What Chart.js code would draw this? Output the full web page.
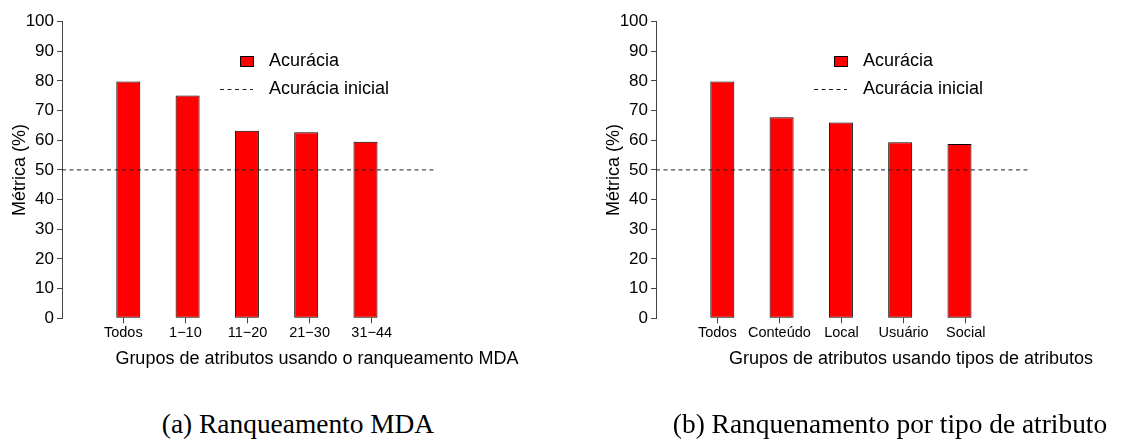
<!DOCTYPE html>
<html lang="pt-BR">
<head>
<meta charset="utf-8">
<title>Acurácia por grupos de atributos</title>
<script src="https://cdn.jsdelivr.net/npm/chart.js@4.4.1/dist/chart.umd.min.js"></script>
<style>
  html, body { margin: 0; padding: 0; background: #fff; width: 1130px; height: 440px; overflow: hidden; }
  #painel { position: relative; width: 1130px; height: 440px; overflow: hidden; }
  #painel canvas { position: absolute; top: 0; }
  #graficoA { left: 0; }
  #graficoB { left: 594px; }
  .legenda-fig {
    position: absolute; top: 411px; width: 600px; text-align: center; white-space: nowrap;
    font-family: 'Liberation Serif', 'DejaVu Serif', serif; font-size: 27.4px; line-height: 1; color: #000;
  }
</style>
</head>
<body>
<div id="painel">
  <canvas id="graficoA" width="600" height="400"></canvas>
  <canvas id="graficoB" width="600" height="400"></canvas>
  <div class="legenda-fig" style="left:-2px">(a) Ranqueamento MDA</div>
  <div class="legenda-fig" style="left:590px">(b) Ranquenamento por tipo de atributo</div>
</div>
<script>
// Grupos de atributos e acurácia (%) obtida com cada grupo
const gruposMDA = ['Todos', '1−10', '11−20', '21−30', '31−44'];
const acuraciaMDA = [79.8, 75.1, 63.2, 62.7, 59.5];

const gruposTipo = ['Todos', 'Conteúdo', 'Local', 'Usuário', 'Social'];
const acuraciaTipo = [79.8, 67.7, 66.0, 59.3, 58.7];

// Acurácia de referência (linha tracejada)
const acuraciaInicial = 50;

// Marcas do eixo vertical
const ticksY = [0, 10, 20, 30, 40, 50, 60, 70, 80, 90, 100];

const rotulosSerie = ['Acurácia', 'Acurácia inicial'];
const tituloY = 'Métrica (%)';

// Geometria de cada painel (px)
const CANVAS = { width: 600, height: 400 };
const AREA = { left: 62, top: 21.5, width: 510, height: 296.8 };
const ALTURA_EIXO_X = 60;
const PASSO_BARRA = 59.3, PRIMEIRA_BARRA = 66.3;   // centros das barras
const PASSO_MARCA = 62.1, PRIMEIRA_MARCA = 61.3;   // marcas do eixo x
const COMPRIMENTO_REF = 375;                        // extensão da linha tracejada

const fonte = "'Liberation Sans', Arial, sans-serif";

// Legenda desenhada dentro da área de plotagem, a partir dos próprios datasets
const legendaInterna = {
  id: 'legendaInterna',
  afterDraw(chart, _args, o) {
    const { ctx, chartArea: a } = chart;
    ctx.save();
    ctx.font = `${o.tamanho}px ${fonte}`;
    ctx.textBaseline = 'middle';
    ctx.textAlign = 'left';
    chart.data.datasets.forEach((ds, i) => {
      const y = a.top + o.topo + i * o.passo;
      if (ds.type === 'line') {
        const yl = Math.round(y) + 0.5;
        ctx.strokeStyle = ds.borderColor;
        ctx.lineWidth = ds.borderWidth;
        ctx.setLineDash(ds.borderDash);
        ctx.beginPath();
        ctx.moveTo(a.left + o.linhaIni, yl);
        ctx.lineTo(a.left + o.linhaFim, yl);
        ctx.stroke();
        ctx.setLineDash([]);
      } else {
        const x0 = Math.round(a.left + o.caixaX) + 0.5;
        const y0 = Math.round(y - o.caixaA / 2) + 0.5;
        ctx.fillStyle = ds.backgroundColor;
        ctx.fillRect(x0, y0, o.caixaL, o.caixaA);
        ctx.strokeStyle = ds.borderColor;
        ctx.lineWidth = ds.borderWidth;
        ctx.strokeRect(x0, y0, o.caixaL, o.caixaA);
      }
      ctx.fillStyle = '#000';
      ctx.fillText(ds.label, a.left + o.textoX, y);
    });
    ctx.restore();
  }
};

function criarGrafico(id, grupos, valores, tituloX) {
  const indices = grupos.map((_, i) => i);
  const xbMin = -PRIMEIRA_BARRA / PASSO_BARRA;
  const xbMax = (AREA.width - PRIMEIRA_BARRA) / PASSO_BARRA;
  const xtMin = -PRIMEIRA_MARCA / PASSO_MARCA;
  const xtMax = (AREA.width - PRIMEIRA_MARCA) / PASSO_MARCA;
  const fimRef = (COMPRIMENTO_REF - PRIMEIRA_BARRA) / PASSO_BARRA;

  return new Chart(document.getElementById(id), {
    type: 'bar',
    data: {
      datasets: [
        {
          type: 'bar',
          label: rotulosSerie[0],
          xAxisID: 'xb', yAxisID: 'y',
          data: valores.map((v, i) => ({ x: i, y: v })),
          backgroundColor: '#ff0000',
          borderColor: '#000000',
          borderWidth: 1,
          borderSkipped: false,
          barPercentage: 0.405,
          categoryPercentage: 1,
          order: 1
        },
        {
          type: 'line',
          label: rotulosSerie[1],
          xAxisID: 'xb', yAxisID: 'y',
          data: [{ x: xbMin, y: acuraciaInicial }, { x: fimRef, y: acuraciaInicial }],
          borderColor: '#222222',
          borderWidth: 1,
          borderDash: [4, 3.5],
          pointRadius: 0,
          fill: false,
          order: 0
        }
      ]
    },
    plugins: [legendaInterna],
    options: {
      responsive: false,
      animation: false,
      events: [],
      layout: {
        padding: {
          left: 0,
          top: AREA.top,
          right: CANVAS.width - AREA.left - AREA.width,
          bottom: CANVAS.height - AREA.top - AREA.height - ALTURA_EIXO_X
        }
      },
      plugins: {
        legend: { display: false },
        tooltip: { enabled: false },
        legendaInterna: {
          tamanho: 18, topo: 39.8, passo: 28,
          linhaIni: 158, linhaFim: 191,
          caixaX: 178, caixaL: 13, caixaA: 10,
          textoX: 207
        }
      },
      scales: {
        xb: {
          type: 'linear', position: 'bottom', display: false,
          offset: false, min: xbMin, max: xbMax,
          grid: { offset: false },
          afterBuildTicks: s => { s.ticks = indices.map(v => ({ value: v })); }
        },
        xt: {
          type: 'linear', position: 'bottom',
          offset: false, min: xtMin, max: xtMax,
          afterBuildTicks: s => { s.ticks = indices.map(v => ({ value: v })); },
          afterFit: s => { s.height = ALTURA_EIXO_X; },
          ticks: {
            callback: v => grupos[v],
            autoSkip: false, maxRotation: 0, minRotation: 0,
            padding: 1, color: '#000',
            font: { family: fonte, size: 14.5 }
          },
          grid: { offset: false, drawOnChartArea: false, drawTicks: true, tickLength: 5, color: '#444', lineWidth: 1 },
          border: { display: false },
          title: {
            display: true, text: tituloX, color: '#000',
            font: { family: fonte, size: 18 },
            padding: { top: 0, bottom: 8 }
          }
        },
        y: {
          type: 'linear', position: 'left', min: 0, max: 100,
          afterBuildTicks: s => { s.ticks = ticksY.map(v => ({ value: v })); },
          afterFit: s => { s.width = AREA.left; },
          ticks: { color: '#000', padding: 3, font: { family: fonte, size: 17 } },
          grid: { offset: false, drawOnChartArea: false, drawTicks: true, tickLength: 5, color: '#444', lineWidth: 1 },
          border: { display: true, color: '#444', width: 1 },
          title: {
            display: true, text: tituloY, color: '#000',
            font: { family: fonte, size: 18 },
            padding: { top: 9, bottom: 0 }
          }
        }
      }
    }
  });
}

criarGrafico('graficoA', gruposMDA, acuraciaMDA, 'Grupos de atributos usando o ranqueamento MDA');
criarGrafico('graficoB', gruposTipo, acuraciaTipo, 'Grupos de atributos usando tipos de atributos');
</script>
</body>
</html>
